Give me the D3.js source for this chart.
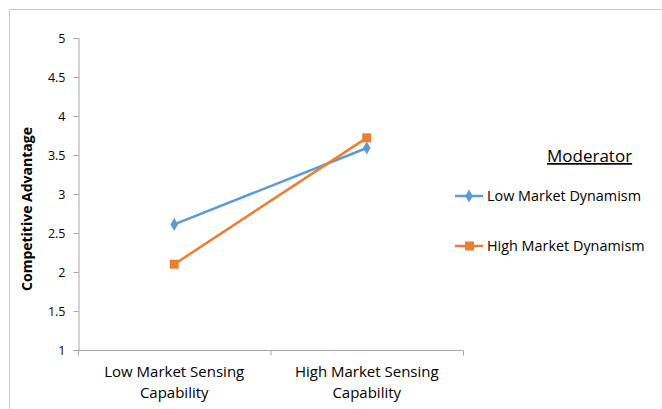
<!DOCTYPE html>
<html><head><meta charset="utf-8">
<script src="https://cdn.jsdelivr.net/npm/d3@7"></script>
<style>body{margin:0;background:#fff}svg{display:block}</style>
</head><body>
<svg id="c" width="662" height="409"></svg>
<script>
const categories = [["Low Market Sensing","Capability"],["High Market Sensing","Capability"]];
const seriesNames = ["Low Market Dynamism","High Market Dynamism"];
const lowDynamism = [2.61, 3.59];
const highDynamism = [2.10, 3.72];
const yTicks = [1,1.5,2,2.5,3,3.5,4,4.5,5];
const colors = ["#5B9BD5","#ED7D31"];
const font = "'Open Sans', sans-serif";

const svg = d3.select("#c");
svg.append("path").attr("d","M9.5,409 V9.5 H662").attr("fill","none").attr("stroke","#c8c8c8").attr("stroke-width",1);

const x = d3.scaleBand().domain([0,1]).range([78,463]);
const y = d3.scaleLinear().domain([1,5]).range([350,38]);

const yAxis = svg.append("g").attr("transform","translate(78.5,0)")
  .call(d3.axisLeft(y).tickValues(yTicks).tickSize(5).tickPadding(8).tickFormat(d=>d));
yAxis.select(".domain").attr("stroke","#a6a6a6");
yAxis.selectAll(".tick line").attr("stroke","#a6a6a6");
yAxis.selectAll("text").attr("font-family",font).attr("font-size",12.5).attr("fill","#000");

const xg = svg.append("g").attr("transform","translate(0,350.5)");
xg.append("line").attr("x1",78).attr("x2",463).attr("stroke","#a6a6a6");
[78, x(1), 463].forEach(t=>xg.append("line").attr("x1",t+0.5).attr("x2",t+0.5).attr("y1",0).attr("y2",5).attr("stroke","#a6a6a6"));
categories.forEach((c,i)=>{
  const t = xg.append("text").attr("text-anchor","middle").attr("font-family",font).attr("font-size",15).attr("fill","#000");
  c.forEach((line,j)=>t.append("tspan").attr("x",x(i)+x.bandwidth()/2).attr("y",26+j*21).text(line));
});

svg.append("text").attr("transform","translate(32,209) rotate(-90)").attr("text-anchor","middle")
  .attr("font-family",font).attr("font-size",14).attr("font-weight","bold").text("Competitive Advantage");

const cx = i => x(i)+x.bandwidth()/2;
const data = [lowDynamism, highDynamism];
const line = d3.line().x((d,i)=>cx(i)).y(d=>y(d));
data.forEach((s,k)=>{
  svg.append("path").datum(s).attr("d",line).attr("fill","none").attr("stroke",colors[k]).attr("stroke-width",2.5);
});
const diamond = d3.symbol().type(d3.symbolDiamond).size(50);
svg.selectAll(".m0").data(lowDynamism).join("path").attr("transform",(d,i)=>`translate(${cx(i)},${y(d)})`).attr("d",diamond).attr("fill",colors[0]);
svg.selectAll(".m1").data(highDynamism).join("rect").attr("x",(d,i)=>cx(i)-4.5).attr("y",d=>y(d)-4.5).attr("width",9).attr("height",9).attr("fill",colors[1]);

svg.append("text").attr("x",547).attr("y",162).attr("font-family",font).attr("font-size",17).attr("text-decoration","underline").text("Moderator");
const ly = [196,246];
seriesNames.forEach((n,k)=>{
  svg.append("line").attr("x1",455).attr("x2",483).attr("y1",ly[k]).attr("y2",ly[k]).attr("stroke",colors[k]).attr("stroke-width",2.5);
  if(k===0) svg.append("path").attr("transform",`translate(469,${ly[k]})`).attr("d",diamond).attr("fill",colors[0]);
  else svg.append("rect").attr("x",465).attr("y",ly[k]-4.5).attr("width",9).attr("height",9).attr("fill",colors[1]);
  svg.append("text").attr("x",487).attr("y",ly[k]+5).attr("font-family",font).attr("font-size",14.4).text(n);
});
</script>
</body></html>
